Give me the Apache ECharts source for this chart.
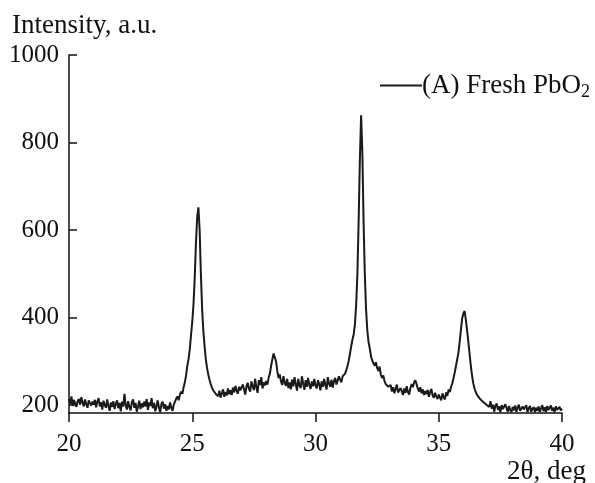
<!DOCTYPE html>
<html>
<head>
<meta charset="utf-8">
<script src="https://cdn.jsdelivr.net/npm/echarts@6/dist/echarts.min.js"></script>
<style>html,body{margin:0;padding:0;background:#fff}#c{width:595px;height:483px}</style>
</head>
<body>
<div id="c"></div>
<script>
// 2θ grid: start, step (deg)
var thetaStart = 20.0;
var thetaStep = 0.05;
// Intensity readings, one row per degree (20 values each)
var intensity = [
  214,203,220,198,212,216,196,209,214,201,218,206,197,213,202,194,211,215,199,208, // 20
  201,212,195,208,216,197,207,190,210,200,194,213,198,187,206,196,209,191,203,211, // 21
  193,205,186,208,197,226,199,190,209,196,188,206,213,194,205,185,197,210,191,204, // 22
  195,208,197,214,189,206,198,216,193,205,186,197,211,194,184,203,208,192,202,187, // 23
  198,190,206,194,187,201,208,215,220,211,224,231,226,241,252,268,290,305,328,360, // 24
  390,430,490,570,630,652,600,500,420,370,335,305,285,270,258,248,240,234,230,226, // 25
  228,220,233,217,227,236,219,230,222,238,225,234,223,240,229,244,233,226,242,234, // 26
  230,247,236,224,243,251,237,231,254,243,234,260,241,228,257,246,264,238,252,245, // 27
  255,247,263,272,290,305,318,322,300,278,262,270,254,246,266,251,244,260,239,252, // 28
  236,258,243,264,248,233,260,245,239,266,249,235,257,242,262,246,237,254,243,260, // 29
  245,238,257,248,234,254,242,260,246,236,264,249,242,258,240,255,262,247,256,266, // 30
  258,252,266,262,272,280,290,302,318,335,350,362,385,430,500,620,760,862,780,620, // 31
  500,420,372,345,330,312,302,296,290,298,285,278,288,270,262,268,255,248,252,242, // 32
  238,246,231,241,227,237,247,229,225,239,232,223,238,228,243,230,224,239,248,241, // 33
  252,257,248,238,231,241,227,236,223,232,225,235,219,230,237,222,217,228,220,214, // 34
  224,217,211,227,218,213,229,221,236,230,242,250,262,275,290,305,320,345,372,398, // 35
  410,415,395,370,345,318,290,268,250,238,230,224,228,216,220,210,214,205,209,200, // 36
  204,196,209,192,201,185,199,204,189,197,184,200,191,187,202,193,185,198,189,184, // 37
  196,188,199,185,194,201,187,184,197,190,186,200,184,193,198,185,191,196,184,194, // 38
  187,197,184,193,200,186,195,184,198,189,185,199,187,194,184,197,189,186,196,188, // 39
  192 // 40
];
var xTicks = [20, 25, 30, 35, 40];
var yTicks = [200, 400, 600, 800, 1000];
var seriesName = '(A) Fresh PbO2';

var data = intensity.map(function (v, i) {
  return [+(thetaStart + i * thetaStep).toFixed(2), v];
});

var font = '"Liberation Serif", "DejaVu Serif", serif';
var chart = echarts.init(document.getElementById('c'), null, {renderer: 'canvas'});
chart.setOption({
  animation: false,
  backgroundColor: '#fff',
  grid: {left: 69, right: 33, top: 55, bottom: 70, containLabel: false},
  legend: {
    show: true,
    right: 0,
    top: 67,
    itemWidth: 42,
    itemHeight: 2,
    itemGap: 0,
    icon: 'rect',
    data: [seriesName],
    formatter: function () { return '(A) Fresh PbO{sub|2}'; },
    textStyle: {
      fontFamily: font, fontSize: 27, color: '#111', padding: [0, 0, 0, -5],
      rich: {sub: {fontFamily: font, fontSize: 18, color: '#111', padding: [14, 0, 0, 0]}}
    }
  },
  xAxis: {
    type: 'value', min: xTicks[0], max: xTicks[xTicks.length - 1], interval: 5,
    axisLine: {show: true, onZero: false, lineStyle: {color: '#111', width: 1.5}},
    axisTick: {show: true, inside: false, length: 9, lineStyle: {color: '#111', width: 1.5}},
    axisLabel: {
      customValues: xTicks,
      margin: 19, fontFamily: font, fontSize: 25, color: '#111'
    },
    splitLine: {show: false}
  },
  yAxis: {
    type: 'value', min: 182, max: 1000,
    axisLine: {show: true, onZero: false, lineStyle: {color: '#111', width: 1.5}},
    axisTick: {show: true, inside: true, length: 8, customValues: yTicks, lineStyle: {color: '#111', width: 1.5}},
    axisLabel: {
      customValues: yTicks, margin: 10, fontFamily: font, fontSize: 25, color: '#111',
      formatter: function (v) { return String(v); }
    },
    splitLine: {show: false}
  },
  graphic: [
    {type: 'text', left: 12, top: 12, style: {text: 'Intensity, a.u.', fontFamily: font, fontSize: 27, fill: '#111'}},
    {type: 'text', right: 9, top: 458, style: {text: '2θ, deg', fontFamily: font, fontSize: 27, fill: '#111'}}
  ],
  series: [{
    name: seriesName,
    type: 'line',
    data: data,
    showSymbol: false,
    symbol: 'none',
    lineStyle: {color: '#1a1a1a', width: 2},
    itemStyle: {color: '#1a1a1a'}
  }]
});
</script>
</body>
</html>
